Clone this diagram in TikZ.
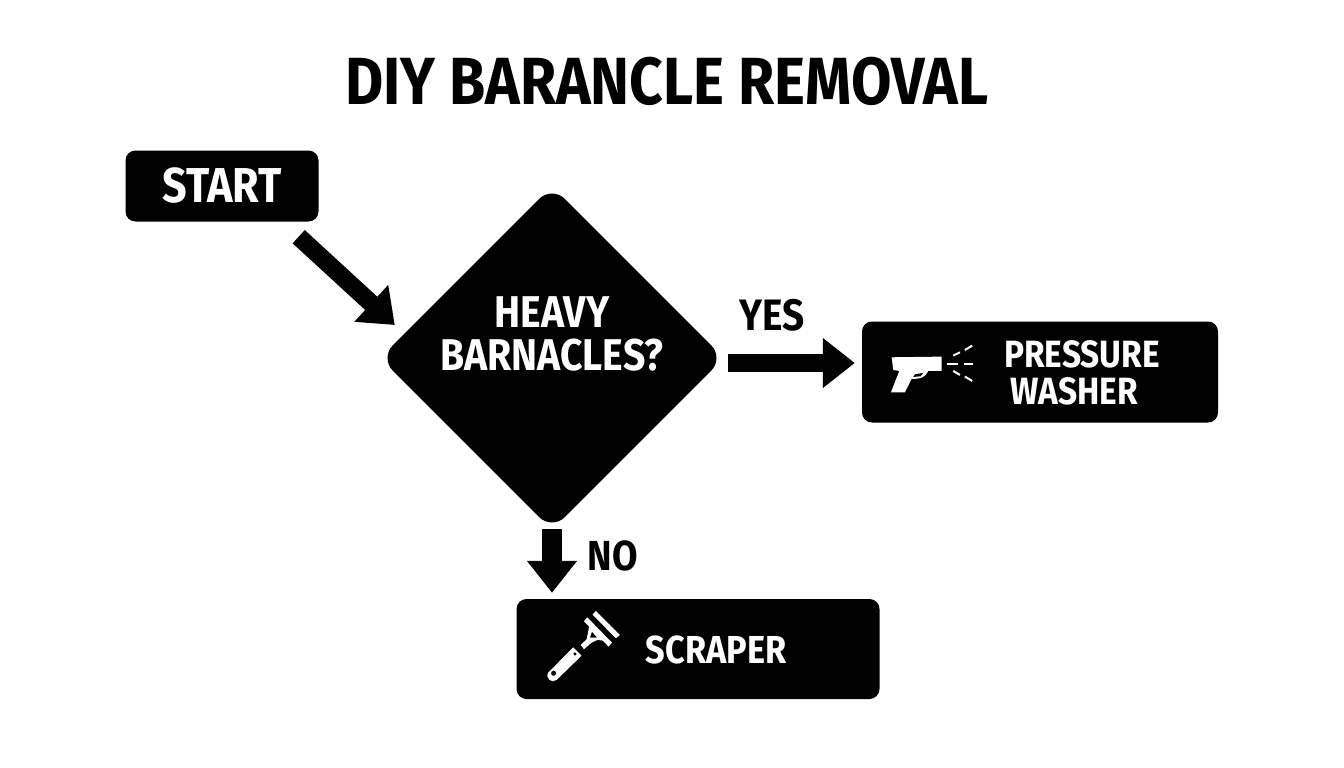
\documentclass[tikz,border=0pt]{standalone}
\usepackage{fontspec}
\setmainfont{Fira Sans}[FakeStretch=0.88]
\usepackage{tikz}
\usetikzlibrary{shapes.geometric, arrows.meta}
\tikzset{
  font={\bfseries}}

\begin{document}
\begin{tikzpicture}[x=1pt, y=1pt,
  box/.style = {fill=black, text=white, rounded corners=10pt, inner sep=0pt, align=center, font={\fontsize{38}{36}\bfseries}},
  main/.style = {diamond, fill=black, rounded corners=18pt, minimum width=344pt, minimum height=344pt, inner sep=0pt},
  word/.style = {font={\fontsize{38}{37}\bfseries}, inner sep=0pt, align=center},
  bigarrow/.style = {-{Triangle[length=32pt, width=48pt]}, line width=18pt},
  icon/.style = {fill=white, draw=none},
  spray/.style = {draw=white, line width=2pt}]
\useasboundingbox (0,0) rectangle (1344,-768);

\node[word, font={\fontsize{66.7}{66}\bfseries}] (title) at (667,-81) {DIY BARANCLE REMOVAL};
\node[box, minimum width=193pt, minimum height=71pt] (start) at (222,-186) {\fontsize{49}{49}\bfseries START};
\node[main] (decision) at (552,-358) {};
\node[word, text=white, font={\fontsize{44.5}{43}\bfseries}] (question) [above of=decision, node distance=24pt] {HEAVY\\BARNACLES?};
\node[box, minimum width=356pt, minimum height=101pt, xshift=0pt, yshift=-14pt] (washer) [right of=decision, node distance=488pt] {};
\node[box, minimum width=363pt, minimum height=100pt, xshift=146pt] (scraper) [below of=decision, node distance=291pt] {};
\node[word, text=white, yshift=-1pt] (washertext) [right of=washer, node distance=42pt] {PRESSURE\\WASHER\hspace*{16pt}};
\node[word, text=white, font={\fontsize{39}{39}\bfseries}, yshift=-1pt] (scrapertext) [right of=scraper, node distance=18pt] {SCRAPER};
\node[word, font={\fontsize{44}{44}\bfseries}] (yes) [right of=decision, node distance=220pt, yshift=43pt] {YES};
\node[word, font={\fontsize{42}{42}\bfseries}] (no) [below of=decision, node distance=198pt, xshift=61pt] {NO};

% arrows between the boxes
\draw[bigarrow] ([xshift=-20pt, yshift=-15pt]start.south east) -- ([xshift=15pt, yshift=33pt]decision.west);
\draw[bigarrow] ([xshift=4pt, yshift=-5pt]decision.east) -- ([xshift=-7pt, yshift=9pt]washer.west);
\draw[bigarrow, line width=20pt] ([yshift=1pt]decision.south) -- ([yshift=6pt]decision.south |- scraper.north);

% spray gun
\begin{scope}[shift={(860,-315)}, x=0.333pt, y=-0.333pt]
\fill[icon] (95,127) -- (245,125) -- (245,168) -- (205,168) .. controls (198,185) and (185,192) .. (155,192) -- (135,232) -- (93,232) -- (118,168) -- (100,165) -- cycle;
\fill[black] (165,178) -- (190,174) -- (182,184) -- (160,186) -- cycle;
\draw[spray] (280,122) -- (300,112);
\draw[spray] (315,105) -- (337,92);
\draw[spray] (262,147) -- (293,147);
\draw[spray] (312,147) -- (340,147);
\draw[spray] (280,168) -- (300,180);
\draw[spray] (315,185) -- (337,198);
\end{scope}

% scraper
\begin{scope}[shift={(510,-590)}, x=0.333pt, y=-0.333pt]
\fill[icon] (258,63) -- (330,135) -- (318,145) -- (248,74) -- cycle;
\fill[icon] (232,82) -- (306,158) -- (296,170) -- (222,94) -- cycle;
\fill[icon, even odd rule] (238,108) -- (282,152) -- (262,150) -- (245,158) -- (222,178) -- (212,165) -- (230,148) -- cycle (246,125) -- (262,143) -- (240,143) -- cycle;
\fill[icon, even odd rule] (190,172) -- (215,197) -- (140,270) .. controls (125,282) and (105,265) .. (115,248) -- cycle (131,250) circle (8);
\fill[black] (195,192) circle (5);
\end{scope}
\end{tikzpicture}
\end{document}
